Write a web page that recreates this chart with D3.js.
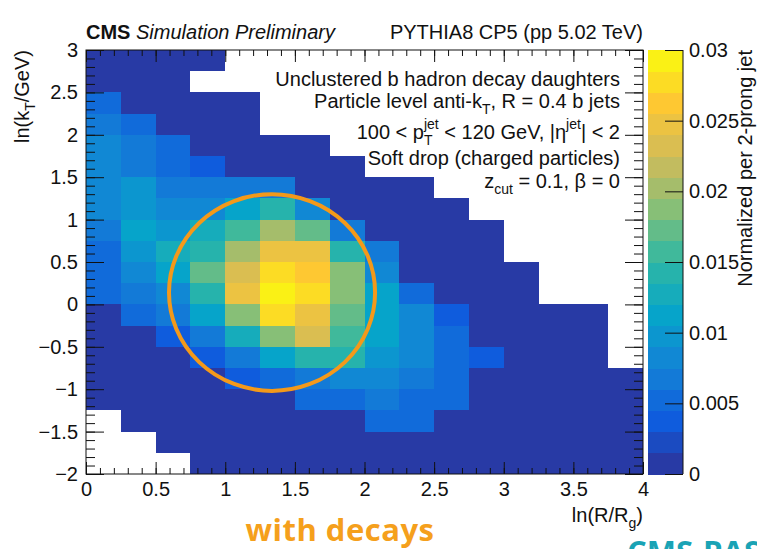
<!DOCTYPE html>
<html>
<head>
<meta charset="utf-8">
<script src="https://cdn.jsdelivr.net/npm/d3@7"></script>
<style>
    body { margin: 0; background: #fff; }
    svg { display: block; }
</style>
</head>
<body>
<div id="chart"></div>
<script>
// bin edges of the 2D histogram
const lnRedges = [0, 0.25, 0.5, 0.75, 1, 1.25, 1.5, 1.75, 2, 2.25, 2.5, 2.75, 3, 3.25, 3.5, 3.75, 4];
// rows listed top to bottom, lower edge of each ln(kT) bin
const lnKtLow = [2.75, 2.5, 2.25, 2, 1.75, 1.5, 1.25, 1, 0.75, 0.5, 0.25, 0, -0.25, -0.5, -0.75, -1, -1.25, -1.5, -1.75, -2];
const ktBinWidth = 0.25;

const N = null; // empty bin
const density = [
    [.0008, .0008, .0008, .0008, N, N, N, N, N, N, N, N, N, N, N, N],
    [.0008, .0008, .0008, N, N, N, N, N, N, N, N, N, N, N, N, N],
    [.0052, .0008, .0008, .0008, .0008, N, N, N, N, N, N, N, N, N, N, N],
    [.0067, .0052, .0008, .0008, .0008, N, N, N, N, N, N, N, N, N, N, N],
    [.0082, .0067, .0052, .0008, .0008, .0008, .0008, N, N, N, N, N, N, N, N, N],
    [.0082, .0067, .0052, .0037, .0008, .0008, .0008, .0008, N, N, N, N, N, N, N, N],
    [.0082, .0097, .0067, .0067, .0067, .0067, .0008, .0008, .0008, .0008, N, N, N, N, N, N],
    [.0082, .0097, .0082, .0082, .0112, .0142, .0082, .0008, .0008, .0008, .0008, N, N, N, N, N],
    [.0067, .0112, .0097, .0127, .0157, .0202, .0172, .0067, .0008, .0008, .0008, .0008, N, N, N, N],
    [.0052, .0097, .0127, .0142, .0202, .0247, .0247, .0142, .0067, .0008, .0008, .0008, N, N, N, N],
    [.0052, .0082, .0112, .0172, .0232, .0277, .0262, .0187, .0082, .0008, .0008, .0008, .0008, N, N, N],
    [.0052, .0067, .0082, .0142, .0247, .0292, .0277, .0187, .0112, .0052, .0008, .0008, .0008, N, N, N],
    [.0008, .0052, .0067, .0112, .0187, .0277, .0247, .0172, .0112, .0082, .0037, .0008, .0008, .0008, .0008, N],
    [.0008, .0008, .0037, .0067, .0127, .0187, .0232, .0157, .0112, .0082, .0052, .0008, .0008, .0008, .0008, N],
    [.0008, .0008, .0008, .0037, .0067, .0112, .0142, .0142, .0097, .0082, .0052, .0037, .0008, .0008, .0008, N],
    [.0008, .0008, .0008, .0008, .0037, .0052, .0067, .0082, .0082, .0067, .0052, .0008, .0008, .0008, .0008, .0008],
    [.0008, .0008, .0008, .0008, .0008, .0008, .0052, .0052, .0067, .0052, .0052, .0008, .0008, .0008, .0008, .0008],
    [N, .0008, .0008, .0008, .0008, .0008, .0008, .0008, .0052, .0052, .0008, .0008, .0008, .0008, .0008, .0008],
    [N, N, .0008, .0008, .0008, .0008, .0008, .0008, .0008, .0008, .0008, .0008, .0008, .0008, .0008, .0008],
    [N, N, N, .0008, .0008, .0008, .0008, .0008, .0008, .0008, .0008, .0008, .0008, .0008, .0008, .0008]
];

const xTicks = [0, 0.5, 1, 1.5, 2, 2.5, 3, 3.5, 4];
const yTicks = [3, 2.5, 2, 1.5, 1, 0.5, 0, -0.5, -1, -1.5, -2];
const zTicks = [0, 0.005, 0.01, 0.015, 0.02, 0.025, 0.03];

// kBird-like palette, 20 contour levels
const palStops = [0, 0.125, 0.25, 0.375, 0.5, 0.625, 0.75, 0.875, 1];
const palColors = ["#2e3297", "#0f5cdd", "#1481d6", "#06a4ca", "#2eb7a4", "#87bf77", "#d1bb59", "#fec832", "#f9fb0e"];
const nLevels = 20;

const width = 757, height = 549;
const frame = { left: 86, right: 643, top: 50, bottom: 474 };
const cbar = { left: 648, right: 683 };
const font = "'Liberation Sans', Arial, Helvetica, sans-serif";
const ink = "#111";

const svg = d3.select("#chart").append("svg")
    .attr("width", width).attr("height", height)
    .style("font-family", font);

const x = d3.scaleLinear().domain([0, 4]).range([frame.left, frame.right]);
const y = d3.scaleLinear().domain([-2, 3]).range([frame.bottom, frame.top]);
const z = d3.scaleLinear().domain([0, 0.03]).range([frame.bottom, frame.top]);

const pal = d3.scaleLinear().domain(palStops).range(palColors).interpolate(d3.interpolateRgb);
const bandColors = d3.range(nLevels).map(i => pal((i + 0.5) / nLevels));
const zColor = d3.scaleQuantize().domain([0, 0.03]).range(bandColors);

// cells
const cells = [];
density.forEach((row, r) => {
    row.forEach((v, c) => {
        if (v !== null) cells.push({ x0: lnRedges[c], x1: lnRedges[c + 1], y0: lnKtLow[r], y1: lnKtLow[r] + ktBinWidth, v: v });
    });
});

svg.append("g").selectAll("rect").data(cells).enter().append("rect")
    .attr("x", d => x(d.x0))
    .attr("y", d => y(d.y1))
    .attr("width", d => x(d.x1) - x(d.x0))
    .attr("height", d => y(d.y0) - y(d.y1))
    .attr("fill", d => zColor(d.v))
    .attr("shape-rendering", "crispEdges");

// axes (ROOT style, ticks inside on all four sides)
function styleAxis(g) {
    g.select(".domain").remove();
    g.attr("font-family", font).attr("font-size", 20);
    g.selectAll("line").attr("stroke", ink);
    g.selectAll("text").attr("fill", ink);
}
const fmt = d3.format("");
const xMinor = d3.range(0, 4.001, 0.1);
const yMinor = d3.range(-2, 3.001, 0.1);

svg.append("g").attr("transform", `translate(0,${frame.bottom})`)
    .call(d3.axisBottom(x).tickValues(xMinor).tickFormat("").tickSize(-6)).call(styleAxis);
svg.append("g").attr("transform", `translate(0,${frame.bottom})`)
    .call(d3.axisBottom(x).tickValues(xTicks).tickFormat(fmt).tickSize(-12).tickPadding(8)).call(styleAxis);
svg.append("g").attr("transform", `translate(0,${frame.top})`)
    .call(d3.axisTop(x).tickValues(xMinor).tickFormat("").tickSize(-6)).call(styleAxis);
svg.append("g").attr("transform", `translate(0,${frame.top})`)
    .call(d3.axisTop(x).tickValues(xTicks).tickFormat("").tickSize(-12)).call(styleAxis);

svg.append("g").attr("transform", `translate(${frame.left},0)`)
    .call(d3.axisLeft(y).tickValues(yMinor).tickFormat("").tickSize(-9)).call(styleAxis);
svg.append("g").attr("transform", `translate(${frame.left},0)`)
    .call(d3.axisLeft(y).tickValues(yTicks).tickFormat(fmt).tickSize(-18).tickPadding(8)).call(styleAxis);
svg.append("g").attr("transform", `translate(${frame.right},0)`)
    .call(d3.axisRight(y).tickValues(yMinor).tickFormat("").tickSize(-9)).call(styleAxis);
svg.append("g").attr("transform", `translate(${frame.right},0)`)
    .call(d3.axisRight(y).tickValues(yTicks).tickFormat("").tickSize(-18)).call(styleAxis);

svg.append("rect")
    .attr("x", frame.left).attr("y", frame.top)
    .attr("width", frame.right - frame.left).attr("height", frame.bottom - frame.top)
    .attr("fill", "none").attr("stroke", ink).attr("stroke-width", 1);

// colour bar
svg.append("g").selectAll("rect").data(bandColors).enter().append("rect")
    .attr("x", cbar.left)
    .attr("y", (d, i) => z((i + 1) * 0.03 / nLevels))
    .attr("width", cbar.right - cbar.left)
    .attr("height", (d, i) => z(i * 0.03 / nLevels) - z((i + 1) * 0.03 / nLevels) + 0.5)
    .attr("fill", d => d)
    .attr("shape-rendering", "crispEdges");

svg.append("g").attr("transform", `translate(${cbar.right},0)`)
    .call(d3.axisRight(z).tickValues(zTicks).tickFormat(fmt).tickSize(-18).tickPadding(6)).call(styleAxis);
svg.append("line")
    .attr("x1", cbar.right).attr("x2", cbar.right)
    .attr("y1", frame.top).attr("y2", frame.bottom)
    .attr("stroke", ink).attr("stroke-width", 1);

// text with sub/superscripts
function addPieces(t, pieces) {
    pieces.forEach(p => {
        const s = t.append("tspan").text(p.t);
        if (p.size) s.attr("font-size", p.size);
        if (p.dx) s.attr("dx", p.dx);
        if (p.dy) s.attr("dy", p.dy);
        if (p.style) s.attr("font-style", p.style);
        if (p.weight) s.attr("font-weight", p.weight);
    });
    return t;
}

// axis titles
addPieces(svg.append("text")
    .attr("x", frame.right).attr("y", 522)
    .attr("text-anchor", "end").attr("font-size", 20).attr("fill", ink),
    [{ t: "ln(R/R" }, { t: "g", size: 14, dy: 6 }, { t: ")", dy: -6 }]);

addPieces(svg.append("text")
    .attr("transform", `translate(29,${frame.top}) rotate(-90)`)
    .attr("text-anchor", "end").attr("font-size", 20).attr("fill", ink),
    [{ t: "ln(k" }, { t: "T", size: 14, dy: 6 }, { t: "/GeV)", dy: -6 }]);

svg.append("text")
    .attr("transform", `translate(752,${frame.top}) rotate(-90)`)
    .attr("text-anchor", "end").attr("font-size", 20).attr("fill", ink)
    .text("Normalized per 2-prong jet");

// header
addPieces(svg.append("text")
    .attr("x", frame.left).attr("y", 39).attr("font-size", 20).attr("fill", ink),
    [{ t: "CMS", weight: "bold" }, { t: " Simulation Preliminary", style: "italic" }]);
svg.append("text")
    .attr("x", frame.right).attr("y", 39).attr("text-anchor", "end")
    .attr("font-size", 20).attr("fill", ink)
    .text("PYTHIA8 CP5 (pp 5.02 TeV)");

// in-plot legend
const legendLines = [
    { y: 86, pieces: [{ t: "Unclustered b hadron decay daughters" }] },
    { y: 108, pieces: [{ t: "Particle level anti-k" }, { t: "T", size: 14, dy: 6 }, { t: ", R = 0.4 b jets", dy: -6 }] },
    { y: 139, pieces: [{ t: "100 < p" }, { t: "jet", size: 14, dy: -10 }, { t: "T", size: 14, dx: -14.8, dy: 16 },
        { t: " < 120 GeV, |η", dx: 6.2, dy: -6 }, { t: "jet", size: 14, dy: -10 }, { t: "| < 2", dy: 10 }] },
    { y: 165, pieces: [{ t: "Soft drop (charged particles)" }] },
    { y: 188, pieces: [{ t: "z" }, { t: "cut", size: 14, dy: 6 }, { t: " = 0.1, β = 0", dy: -6 }] }
];
legendLines.forEach(l => {
    addPieces(svg.append("text")
        .attr("x", 620).attr("y", l.y).attr("text-anchor", "end")
        .attr("font-size", 20).attr("fill", ink), l.pieces);
});

// highlighted region (orange ring, data coordinates)
const ring = { cx: 1.336, cy: 0.14, rx: 0.74, ry: 1.16 };
svg.append("ellipse")
    .attr("cx", x(ring.cx)).attr("cy", y(ring.cy))
    .attr("rx", x(ring.rx) - x(0)).attr("ry", y(0) - y(ring.ry))
    .attr("fill", "none").attr("stroke", "#f4991a").attr("stroke-width", 4);

// slide annotations below the plot
svg.append("text")
    .attr("x", 340).attr("y", 541).attr("text-anchor", "middle")
    .attr("font-family", "'Open Sans', sans-serif").attr("font-weight", 700)
    .attr("font-size", 31).attr("letter-spacing", 0.5).attr("fill", "#f5a01c")
    .text("with decays");
svg.append("text")
    .attr("x", 627).attr("y", 563)
    .attr("font-family", "'Open Sans', sans-serif").attr("font-weight", 700)
    .attr("font-size", 31).attr("fill", "#1aa3b5")
    .text("CMS-PAS");
</script>
</body>
</html>
